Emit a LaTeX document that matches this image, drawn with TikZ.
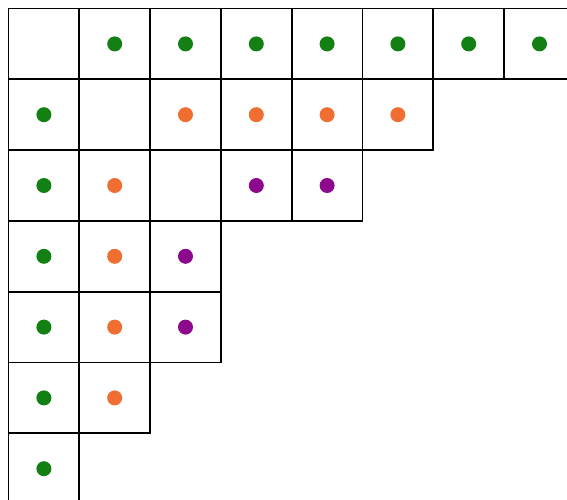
\documentclass[tikz,border=0pt]{standalone}
\definecolor{dgreen}{RGB}{18,128,18}
\definecolor{dorange}{RGB}{240,110,50}
\definecolor{dpurple}{RGB}{140,8,140}
\begin{document}
\begin{tikzpicture}[x=1pt,y=-1pt,
  cell/.style={draw=black,line width=1.8pt,minimum size=70.8pt,inner sep=0pt,outer sep=0pt},
  dot/.style={circle,inner sep=0pt,minimum size=15pt}]
\useasboundingbox (0,0) rectangle (567,500);
\clip (0,0) rectangle (567,500);
\fill[white] (0,0) rectangle (567,500);
\def\cs{70.8}
\def\nocol{n}
\foreach \r/\row in {0/{0/n,1/dgreen,2/dgreen,3/dgreen,4/dgreen,5/dgreen,6/dgreen,7/dgreen},
                     1/{0/dgreen,1/n,2/dorange,3/dorange,4/dorange,5/dorange},
                     2/{0/dgreen,1/dorange,2/n,3/dpurple,4/dpurple},
                     3/{0/dgreen,1/dorange,2/dpurple},
                     4/{0/dgreen,1/dorange,2/dpurple},
                     5/{0/dgreen,1/dorange},
                     6/{0/dgreen}}{
  \foreach \c/\col in \row {
    \node[cell] (c\r\c) at ({8.5+\cs*(\c+0.5)},{8.5+\cs*(\r+0.5)}) {};
    \ifx\col\nocol\else
      \node[dot,fill=\col] (d\r\c) at (c\r\c.center) {};
    \fi
  }
}
\end{tikzpicture}
\end{document}
